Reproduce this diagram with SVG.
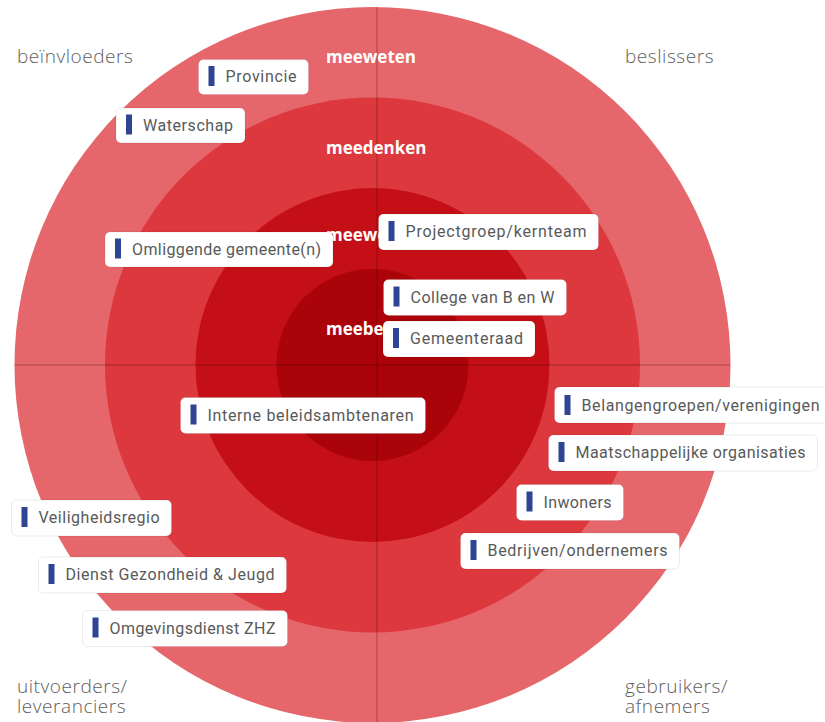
<svg xmlns="http://www.w3.org/2000/svg" width="825" height="722" viewBox="0 0 825 722">
<style>
.quad{font-family:"Open Sans","Liberation Sans",sans-serif;font-weight:300;font-size:19px;letter-spacing:0.55px;fill:#5e5e5e}
.ring{font-family:"Open Sans","Liberation Sans",sans-serif;font-weight:700;font-size:17px;fill:#ffffff}
.box{fill:#ffffff;stroke:#000;stroke-opacity:0.08;stroke-width:1}
.bar{fill:#2f4594}
.lbl{font-family:Roboto,"Liberation Sans",sans-serif;font-size:16px;fill:#595959}
.axis{stroke:#3a0000;stroke-opacity:0.35;stroke-width:1;fill:none}
</style>
<rect width="825" height="722" fill="#ffffff"/>
<g id="rings">
<circle cx="372.5" cy="365" r="358" fill="#e5676b"/>
<circle cx="372.5" cy="365" r="267.5" fill="#dc383d"/>
<circle cx="372.5" cy="365" r="177" fill="#c40f16"/>
<circle cx="372.5" cy="365" r="96" fill="#aa0309"/>
</g>
<g id="connectors">
<line class="axis" x1="377" y1="7" x2="377" y2="722"/>
<line class="axis" x1="15" y1="365" x2="730" y2="365"/>
</g>
<g id="ring-labels">
<text class="ring" x="326" y="63">meeweten</text>
<text class="ring" x="326" y="154">meedenken</text>
<text class="ring" x="326" y="241">meewerken</text>
<text class="ring" x="326" y="335">meebeslissen</text>
</g>
<g id="quadrants">
<text class="quad" x="17" y="63">beïnvloeders</text>
<text class="quad" x="625" y="63">beslissers</text>
<text class="quad" x="17" y="693">uitvoerders/</text>
<text class="quad" x="17" y="713">leveranciers</text>
<text class="quad" x="625" y="693">gebruikers/</text>
<text class="quad" x="625" y="713">afnemers</text>
</g>
<g id="provincie"><rect class="box" x="198.5" y="59.5" width="110" height="35" rx="5"/><rect class="bar" x="208.5" y="66" width="6" height="20"/><text class="lbl" x="225.5" y="82" textLength="71">Provincie</text></g>
<g id="waterschap"><rect class="box" x="116" y="108" width="129" height="35" rx="5"/><rect class="bar" x="126" y="114.5" width="6" height="20"/><text class="lbl" x="143" y="130.5" textLength="90">Waterschap</text></g>
<g id="omliggende"><rect class="box" x="105" y="232" width="228" height="35" rx="5"/><rect class="bar" x="115" y="238.5" width="6" height="20"/><text class="lbl" x="132" y="254.5" textLength="189">Omliggende gemeente(n)</text></g>
<g id="projectgroep"><rect class="box" x="378.5" y="214" width="220" height="36" rx="5"/><rect class="bar" x="388.5" y="221" width="6" height="20"/><text class="lbl" x="405.5" y="237" textLength="181">Projectgroep/kernteam</text></g>
<g id="college"><rect class="box" x="383.5" y="279.5" width="183" height="36" rx="5"/><rect class="bar" x="393.5" y="286.5" width="6" height="20"/><text class="lbl" x="410.5" y="302.5" textLength="144">College van B en W</text></g>
<g id="gemeenteraad"><rect class="box" x="383" y="321" width="152" height="36" rx="5"/><rect class="bar" x="393" y="328" width="6" height="20"/><text class="lbl" x="410" y="344" textLength="113">Gemeenteraad</text></g>
<g id="interne"><rect class="box" x="180.5" y="397.5" width="245" height="36" rx="5"/><rect class="bar" x="190.5" y="404.5" width="6" height="20"/><text class="lbl" x="207.5" y="420.5" textLength="206">Interne beleidsambtenaren</text></g>
<g id="belangengroepen"><rect class="box" x="554.5" y="387" width="278" height="36" rx="5"/><rect class="bar" x="564.5" y="395" width="6" height="20"/><text class="lbl" x="581.5" y="411" textLength="238">Belangengroepen/verenigingen</text></g>
<g id="maatschappelijke"><rect class="box" x="548.5" y="435" width="269" height="36" rx="5"/><rect class="bar" x="558.5" y="442" width="6" height="20"/><text class="lbl" x="575.5" y="458" textLength="230">Maatschappelijke organisaties</text></g>
<g id="inwoners"><rect class="box" x="516.5" y="484.5" width="107" height="36" rx="5"/><rect class="bar" x="526.5" y="491.5" width="6" height="20"/><text class="lbl" x="543.5" y="507.5" textLength="68">Inwoners</text></g>
<g id="bedrijven"><rect class="box" x="460.5" y="533" width="219" height="36" rx="5"/><rect class="bar" x="470.5" y="540" width="6" height="20"/><text class="lbl" x="487.5" y="556" textLength="180">Bedrijven/ondernemers</text></g>
<g id="veiligheidsregio"><rect class="box" x="11.5" y="500" width="160" height="36" rx="5"/><rect class="bar" x="21.5" y="507" width="6" height="20"/><text class="lbl" x="38.5" y="523" textLength="121">Veiligheidsregio</text></g>
<g id="dienst"><rect class="box" x="38.5" y="557" width="248" height="36" rx="5"/><rect class="bar" x="48.5" y="564" width="6" height="20"/><text class="lbl" x="65.5" y="580" textLength="209">Dienst Gezondheid &amp; Jeugd</text></g>
<g id="omgevingsdienst"><rect class="box" x="82.5" y="610.5" width="205" height="36" rx="5"/><rect class="bar" x="92.5" y="617.5" width="6" height="20"/><text class="lbl" x="109.5" y="633.5" textLength="166">Omgevingsdienst ZHZ</text></g>
</svg>
